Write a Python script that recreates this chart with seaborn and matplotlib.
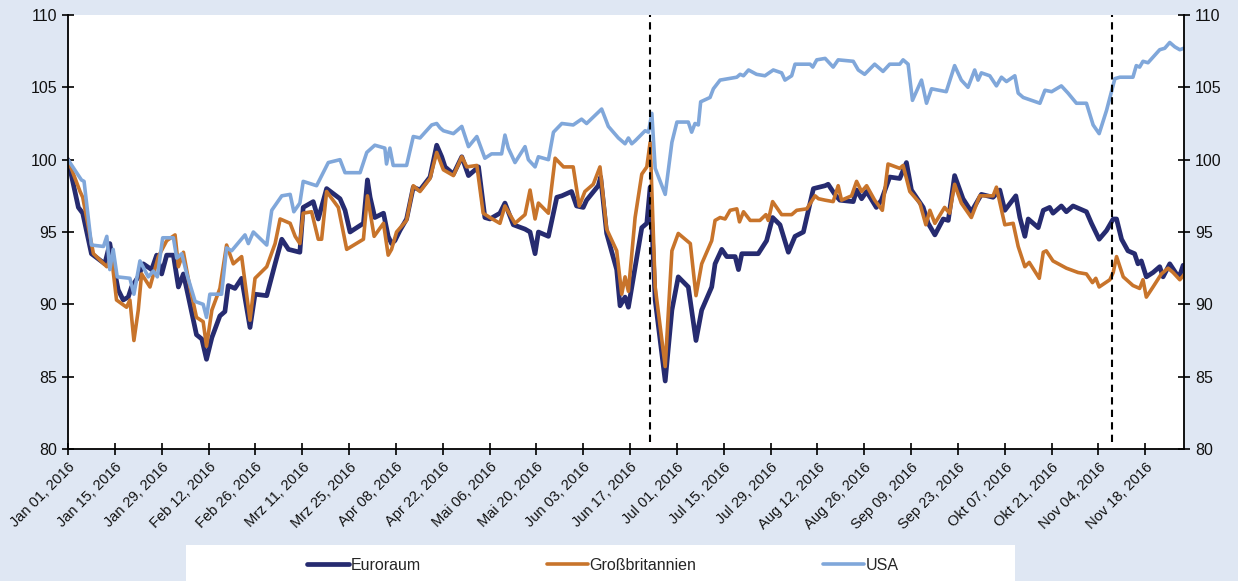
import matplotlib
matplotlib.use("Agg")
import matplotlib.pyplot as plt
from matplotlib.patches import Rectangle
import numpy as np
import pandas as pd
import seaborn as sns

# ---------------- data (day offsets from 2016-01-01, index values) ----------------
START = "2016-01-01"

eur_days = [0, 3.1, 4.4, 7, 11, 12.5, 13.5, 15, 16.5, 18, 19, 21, 22.5, 25, 26.5, 28, 29.5, 31.5, 33, 34.5,
            36, 38.4, 40, 41.4, 43, 45.4, 46.9, 47.9, 49.9, 51.9, 54.4, 55.9, 59.4, 61.9, 63.9, 65.9, 69.3,
            70.3, 73.3, 74.8, 77.3, 81.3, 82.8, 84.3, 88.3, 89.5, 90.3, 91.7, 94.3, 95.7, 96.7, 97.7, 99.2,
            101.2, 103.2, 105.2, 108.2, 110.2, 111.7, 112.7, 115.2, 117.7, 119.7, 122.7, 124.6, 126.1, 129.1,
            130.6, 133.1, 136.6, 138.1, 139.6, 140.6, 143.6, 146.1, 147.6, 150.5, 152.0, 154.0, 155.0, 158.5,
            159.2, 161.0, 164.0, 165.0, 166.5, 167.5, 171.5, 173, 174, 175.5, 177, 178.5, 180.5, 182.4, 185.4,
            187.7, 189.4, 192.4, 193.4, 195.4, 196.9, 199.4, 200.4, 201.4, 206.3, 208.8, 210.6, 212.8, 215.3,
            217.3, 219.8, 222.8, 226.3, 227.2, 229.2, 230.7, 234.7, 235.7, 237.2, 238.7, 241.6, 243.1, 245.6,
            248.6, 250.6, 252.1, 255.6, 257.1, 259.1, 261.6, 263.1, 265.0, 267.5, 270.0, 273.0, 276.5, 278.5,
            280.0, 283.3, 284.5, 286.0, 287.0, 290.0, 291.5, 293.4, 294.4, 296.9, 298.4, 300.4, 304.4, 305.9,
            308.2, 310.4, 312.4, 313.4, 314.9, 316.8, 318.8, 319.8, 320.8, 322.3, 324.3, 326.3, 327.3, 329.3,
            331.3, 332.3, 333.3]
eur_vals = [100, 96.7, 96.3, 93.5, 92.8, 94.2, 92.8, 91.0, 90.3, 90.5, 91.2, 91.9, 92.8, 92.4, 93.4, 92.1, 93.4,
            93.4, 91.2, 92.1, 90.5, 87.9, 87.6, 86.2, 87.7, 89.2, 89.5, 91.3, 91.1, 91.8, 88.4, 90.7, 90.6, 92.8,
            94.5, 93.8, 93.6, 96.7, 97.1, 95.9, 98.0, 97.3, 96.5, 95.0, 95.6, 98.6, 97.4, 96.0, 96.3, 94.7, 94.2,
            94.4, 95.1, 95.9, 98.1, 97.9, 98.8, 101.0, 100.2, 99.5, 99.0, 100.2, 98.9, 99.5, 96.0, 95.9, 96.3,
            97.0, 95.5, 95.2, 95.0, 93.5, 95.0, 94.7, 97.4, 97.5, 97.8, 96.8, 96.7, 97.2, 98.2, 98.8, 94.9, 92.4,
            89.9, 90.5, 89.8, 95.3, 95.6, 98.1, 90.3, 87.5, 84.7, 89.6, 91.9, 91.2, 87.5, 89.6, 91.2, 92.8, 93.8,
            93.3, 93.3, 92.4, 93.5, 93.5, 94.4, 96.0, 95.5, 93.6, 94.7, 95.0, 98.0, 98.2, 98.3, 97.6, 97.2, 97.1,
            97.9, 97.3, 97.8, 96.7, 97.2, 98.8, 98.7, 99.8, 97.9, 96.7, 95.6, 94.8, 95.9, 95.8, 98.9, 97.3, 96.4,
            97.6, 97.4, 97.9, 96.5, 97.5, 96.0, 94.7, 95.9, 95.3, 96.5, 96.7, 96.3, 96.8, 96.4, 96.8, 96.4, 95.6,
            94.5, 95.1, 95.9, 95.9, 94.5, 93.7, 93.5, 92.8, 93.0, 91.9, 92.2, 92.6, 91.9, 92.8, 92.1, 92.0, 92.7]

gb_days = [0, 3.6, 4.4, 7.6, 11.6, 13, 14.5, 17.5, 18.5, 19.7, 21, 22, 24.5, 27, 29.5, 32, 33, 34.5, 36, 38.4,
           40.4, 41.4, 43, 45.4, 47.4, 49.4, 51.9, 54.4, 55.9, 59.4, 61.9, 63.4, 66.4, 67.9, 69.3, 70.3, 72.8,
           74.8, 75.8, 77.3, 80.8, 83.3, 88.3, 89.5, 91.5, 94.3, 95.7, 96.7, 98.2, 101.2, 103.2, 105.2, 108.2,
           110.2, 112.2, 115.2, 117.7, 119.2, 122.2, 124.1, 126.1, 129.1, 130.6, 133.6, 136.6, 138.1, 139.6,
           140.6, 143.6, 145.6, 148.1, 151.0, 152.8, 154.5, 157.0, 159.0, 161.0, 164.0, 165.5, 166.5, 167.5,
           169.5, 171.5, 173, 174, 175.5, 178.5, 180.5, 182.4, 186, 187.7, 189.4, 192.4, 193.4, 194.9, 196.4,
           197.9, 199.9, 200.7, 201.9, 203.9, 206.8, 208.6, 209.3, 210.6, 213.3, 216.3, 217.8, 220.8, 223.3,
           224.3, 226.3, 228.7, 230.2, 231.2, 234.2, 235.7, 237.2, 238.7, 241.1, 243.4, 245.1, 248.6, 249.6,
           251.6, 254.6, 256.4, 257.6, 259.1, 262.0, 263.5, 265.0, 267.0, 270.0, 272.5, 276.5, 277.5, 280.0,
           282.5, 284.0, 286.0, 287.3, 290.3, 291.5, 292.4, 294.4, 298.4, 301.9, 304.4, 306.2, 307.2, 308.2,
           311.4, 312.4, 313.4, 315.4, 318.3, 320.3, 321.3, 322.3, 324.3, 326.8, 328.8, 330.3, 332.3, 333.8]
gb_vals = [100, 97.8, 97.4, 93.5, 92.6, 93.3, 90.3, 89.8, 90.3, 87.5, 89.6, 92.1, 91.2, 93.3, 94.4, 94.8, 92.6,
           93.6, 91.7, 89.1, 88.8, 87.1, 89.6, 91.1, 94.1, 92.8, 93.3, 88.9, 91.8, 92.6, 94.2, 95.9, 95.6, 94.7,
           94.2, 96.3, 96.4, 94.5, 94.5, 97.8, 96.7, 93.8, 94.5, 97.5, 94.7, 95.6, 93.4, 93.8, 95.0, 95.8, 98.2,
           97.8, 98.7, 100.5, 99.3, 98.9, 100.2, 99.5, 99.6, 96.3, 96.0, 95.6, 96.8, 95.6, 96.2, 97.9, 95.9, 97.0,
           96.3, 100.1, 99.5, 99.5, 96.8, 97.8, 98.3, 99.5, 95.2, 93.7, 90.7, 91.9, 90.9, 96.0, 99.0, 99.5, 101.2,
           91.2, 85.7, 93.7, 94.9, 94.2, 90.6, 92.8, 94.4, 95.8, 96.0, 95.9, 96.5, 96.6, 95.7, 96.4, 95.8, 95.8,
           96.2, 95.8, 97.1, 96.2, 96.2, 96.5, 96.6, 97.5, 97.3, 97.2, 97.1, 98.2, 97.2, 97.5, 98.5, 97.8, 98.2,
           97.2, 96.5, 99.7, 99.4, 99.6, 97.8, 97.0, 95.5, 96.5, 95.6, 96.7, 96.3, 98.3, 97.0, 96.0, 97.5, 97.5,
           98.1, 95.5, 95.6, 94.0, 92.6, 92.9, 91.8, 93.6, 93.7, 93.0, 92.5, 92.2, 92.1, 91.5, 91.8, 91.2, 91.7,
           92.2, 93.3, 91.9, 91.3, 91.1, 91.7, 90.5, 91.2, 92.1, 92.5, 92.2, 91.7, 92.1]

usa_days = [0, 4, 4.8, 7, 10.6, 11.6, 12.5, 13.5, 14.7, 18.5, 19.7, 21.5, 24, 25.5, 26.7, 28.3, 31.5, 32.5, 34,
            35.5, 38, 40.4, 41.4, 42.4, 45.9, 47.4, 48.9, 52.9, 53.9, 55.4, 59.4, 60.9, 63.9, 66.4, 67.5, 69.3,
            70.3, 74.3, 77.8, 81.3, 82.8, 87.3, 89.3, 91.7, 94.7, 95.2, 96.2, 97.2, 101.2, 103.2, 105.2, 108.7,
            110.2, 111.2, 112.2, 115.2, 117.7, 119.7, 122.2, 124.6, 126.6, 129.6, 130.6, 131.6, 133.6, 136.6,
            137.6, 139.6, 140.6, 143.6, 145.1, 147.6, 151.0, 153.5, 155.0, 159.5, 161.5, 164.5, 166.5, 167.5,
            168.5, 169.5, 172.5, 173.5, 174.5, 175.5, 178.5, 180.5, 182, 185.4, 186.4, 187.4, 188.4, 189.1,
            191.9, 192.9, 194.9, 197.4, 199.9, 200.9, 201.9, 203.4, 205.8, 208.3, 210.8, 213.3, 214.3, 216.3,
            217.3, 221.8, 222.6, 223.8, 226.3, 228.7, 230.2, 234.7, 236.2, 238.1, 241.1, 243.6, 245.6, 248.6,
            249.6, 251.1, 252.4, 255.1, 256.6, 258.1, 262.5, 265.0, 267.0, 269.0, 271.0, 272.0, 273.0, 275.5,
            277.5, 279.0, 280.5, 283.0, 284.0, 285.5, 290.5, 292.0, 294.0, 296.9, 298.9, 301.4, 304.4, 306.4,
            308.2, 310.4, 312.9, 314.4, 318.3, 319.3, 320.3, 321.3, 322.8, 326.3, 327.8, 329.3, 330.8, 332.3,
            333.5]
usa_vals = [100, 98.6, 98.5, 94.1, 94.0, 94.7, 92.4, 93.8, 91.9, 91.8, 90.7, 93.0, 91.9, 92.3, 91.9, 94.6, 94.6,
            93.2, 93.5, 92.1, 90.2, 90.0, 89.1, 90.7, 90.7, 93.9, 93.7, 94.8, 94.2, 95.0, 94.1, 96.5, 97.5, 97.6,
            96.4, 97.0, 98.5, 98.2, 99.8, 100.0, 99.1, 99.1, 100.5, 101.0, 100.8, 99.7, 100.8, 99.6, 99.6, 101.6,
            101.5, 102.4, 102.5, 102.2, 102.0, 101.8, 102.3, 100.9, 101.6, 100.1, 100.4, 100.4, 101.7, 100.8,
            99.8, 100.9, 100.0, 99.5, 100.2, 100.0, 101.9, 102.5, 102.4, 102.8, 102.5, 103.5, 102.3, 101.5, 101.1,
            101.5, 101.1, 101.3, 102.0, 101.9, 103.2, 99.4, 97.6, 101.2, 102.6, 102.6, 101.9, 102.5, 102.4, 104.0,
            104.3, 104.9, 105.5, 105.6, 105.7, 105.9, 105.8, 106.2, 105.9, 105.8, 106.2, 106.0, 105.5, 105.8,
            106.6, 106.6, 106.4, 106.9, 107.0, 106.4, 106.9, 106.8, 106.2, 105.9, 106.6, 106.1, 106.6, 106.6,
            106.9, 106.6, 104.1, 105.5, 103.9, 104.9, 104.7, 106.5, 105.5, 105.0, 106.2, 105.5, 106.0, 105.8,
            105.1, 105.7, 105.4, 105.8, 104.6, 104.3, 103.9, 104.8, 104.7, 105.1, 104.6, 103.9, 103.9, 102.4,
            101.8, 103.4, 105.6, 105.7, 105.7, 106.5, 106.4, 106.8, 106.7, 107.6, 107.7, 108.1, 107.8, 107.6,
            107.7]

series_names = ["Euroraum", "Großbritannien", "USA"]
event_dates = ["2016-06-23", "2016-11-08"]
tick_labels = ["Jan 01, 2016", "Jan 15, 2016", "Jan 29, 2016", "Feb 12, 2016", "Feb 26, 2016",
               "Mrz 11, 2016", "Mrz 25, 2016", "Apr 08, 2016", "Apr 22, 2016", "Mai 06, 2016",
               "Mai 20, 2016", "Jun 03, 2016", "Jun 17, 2016", "Jul 01, 2016", "Jul 15, 2016",
               "Jul 29, 2016", "Aug 12, 2016", "Aug 26, 2016", "Sep 09, 2016", "Sep 23, 2016",
               "Okt 07, 2016", "Okt 21, 2016", "Nov 04, 2016", "Nov 18, 2016"]
y_ticks = [80, 85, 90, 95, 100, 105, 110]

# ---------------- styling ----------------
BG = "#dfe7f3"
COLORS = ["#262b70", "#c8742b", "#80a7da"]
WIDTHS = [3.4, 2.6, 2.6]

sns.set_theme(style="white")
plt.rcParams["font.family"] = ["Liberation Sans", "DejaVu Sans"]

W, H = 1238, 581
fig = plt.figure(figsize=(W / 100, H / 100), dpi=100, facecolor=BG)
fig.add_artist(Rectangle((186 / W, 0), (1015 - 186) / W, 36 / H, transform=fig.transFigure,
                         facecolor="white", edgecolor="none", zorder=0))
ax = fig.add_axes([68 / W, 1 - 449 / H, (1183.8 - 68) / W, (449 - 15) / H])
ax.set_facecolor("white")

start = pd.Timestamp(START)
all_days = [eur_days, gb_days, usa_days]
all_vals = [eur_vals, gb_vals, usa_vals]
for name, d, v, c, lw in zip(series_names, all_days, all_vals, COLORS, WIDTHS):
    df = pd.DataFrame({"date": start + pd.to_timedelta(np.array(d), unit="D"), "value": v})
    sns.lineplot(data=df, x="date", y="value", color=c, linewidth=lw, ax=ax, label=name,
                 solid_joinstyle="round", solid_capstyle="round")

for ed in event_dates:
    ax.axvline(pd.Timestamp(ed), color="black", linestyle=(0, (3.5, 2.5)), linewidth=1.5,
               ymin=0.015, ymax=1.0, zorder=5)

ax.set_xlim(start, start + pd.Timedelta(days=333.5))
ax.set_ylim(80, 110)
ax.set_yticks(y_ticks)
ax.set_yticklabels([str(t) for t in y_ticks])
xt = pd.date_range(START, periods=len(tick_labels), freq="14D")
ax.set_xticks(xt)
ax.set_xticklabels(tick_labels, rotation=45, ha="right", rotation_mode="anchor")
ax.set_xlabel("")
ax.set_ylabel("")

ax.tick_params(axis="both", direction="inout", length=8, width=1.2, color="black",
               labelcolor="#111111")
ax.tick_params(axis="y", left=True, right=True, labelleft=True, labelright=True, pad=4,
               labelsize=11.5)
ax.tick_params(axis="x", bottom=True, pad=4, labelsize=10.5)

for s in ["left", "right", "bottom"]:
    ax.spines[s].set_visible(True)
    ax.spines[s].set_color("black")
    ax.spines[s].set_linewidth(1.3)
ax.spines["top"].set_visible(False)

handles, labels = ax.get_legend_handles_labels()
ax.get_legend().remove()
fig.legend(handles, labels, loc="center", bbox_to_anchor=(603 / W, 1 - 565 / H), ncol=3,
           frameon=False, handlelength=2.6, handletextpad=0.1, columnspacing=7.9, fontsize=11.5)

fig.savefig("out.png", dpi=100, facecolor=BG)
